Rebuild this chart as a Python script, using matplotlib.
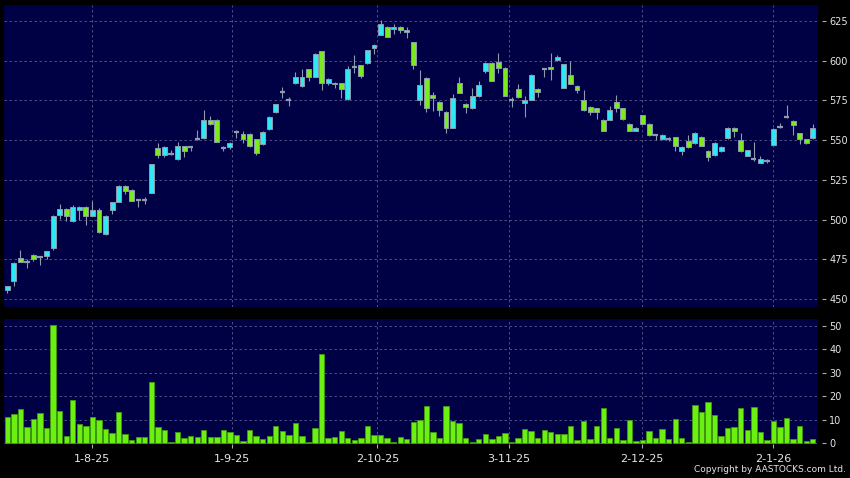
import matplotlib
matplotlib.use('Agg')
import matplotlib.pyplot as plt
import numpy as np

# daily OHLC (HKD), mid-Jul 2025 to mid-Jan 2026
opens = [455.5, 461.6, 476, 473.5, 478, 476.2, 477.3, 482.3, 503, 506.6,
         498.8, 505.8, 508, 502, 506.3, 491.2, 506.3, 511.2, 521.2, 518.8,
         512.5, 512.5, 517, 545, 540.4, 541.2, 537.9, 546.2, 545.8, 550.4,
         551.6, 562.5, 562.5, 545, 545.4, 555.4, 553.7, 553.7, 550.4, 547.5,
         557, 567.5, 580.5, 575.5, 586, 584, 594.5, 590, 605.8, 586.2,
         585, 585.7, 575.7, 595.8, 597.3, 598.3, 608, 616.4, 621, 620.1,
         621.4, 619.3, 611.8, 575.3, 589, 578.4, 574, 567.7, 557.7, 586,
         573, 570, 577.6, 593.3, 598.5, 599.4, 595.4, 575.5, 582.2, 573.2,
         575.3, 582.2, 594.5, 596.2, 600.4, 582.8, 591.2, 584, 575.3, 571,
         570.2, 562.7, 562.7, 574, 570.2, 560.2, 555.8, 565.6, 560.2, 553,
         550.5, 550.9, 551.8, 542.9, 549.6, 547.9, 552.1, 543, 540.4, 542.9,
         551.4, 557.7, 550, 540.3, 538.3, 535.8, 536.7, 547.2, 558.5, 564.8,
         562.1, 554.2, 550.4, 551.4]
highs = [458.5, 473, 481, 475, 478.5, 476.5, 480.5, 503, 509.6, 507,
         509, 508.5, 508.5, 512, 507, 503, 511, 521.5, 521.5, 519,
         513, 514, 535, 548.3, 546, 543.7, 548.7, 546.5, 546, 556.2,
         568.8, 565, 563, 546.2, 548.5, 556.2, 555.8, 554.5, 551, 555.5,
         565, 573, 583.6, 577.4, 593, 594.8, 595, 604.5, 606, 589,
         586.5, 586, 596.6, 603.8, 597.5, 607, 610.5, 625.4, 621.5, 623,
         621.5, 621, 612, 594, 589.5, 580, 574.5, 568, 579, 589.5,
         573.5, 582.6, 587, 599, 599, 605, 596, 577, 585, 577.8,
         591.5, 582.5, 595, 605, 603.3, 598, 600, 584.5, 581.6, 571.5,
         570.5, 563, 571.5, 578.6, 570.5, 560.5, 558, 566, 560.5, 553.5,
         554, 552.2, 552, 546, 553.3, 555.4, 552.5, 543.5, 548.5, 546,
         558, 558, 554.2, 544, 549.1, 540, 537.9, 557.5, 561, 572.3,
         562.5, 554.5, 551, 560.2]
lows = [454, 458.3, 473, 469.5, 474, 471.6, 475, 481, 500.6, 499,
        498.5, 500, 496.6, 502, 491.5, 490, 503.8, 511, 516, 511.5,
        508, 509.6, 517, 539, 539.6, 540.5, 537.5, 539.6, 543, 550,
        551, 559.5, 548.5, 542.9, 544.6, 551.6, 548.3, 545.5, 540.4, 547,
        556.5, 567, 576.3, 571.7, 585.5, 583.5, 587, 589.5, 581.6, 584.5,
        582.8, 576.3, 575.5, 592, 588.9, 598, 604.2, 616, 615, 616.8,
        617.2, 614.3, 594.5, 571.9, 567.7, 568, 565.2, 554.3, 557.5, 579.5,
        566.9, 569.5, 577, 592.5, 587, 592, 577.5, 570.6, 576.5, 564.8,
        575, 577, 589.5, 588, 600, 582.5, 585, 579.4, 568.5, 566,
        563, 555.5, 562.5, 567.7, 562.5, 555.5, 555.5, 560, 552.5, 550,
        550, 549.2, 543, 540.4, 545, 547.5, 546, 536.7, 540, 542.5,
        551, 552, 542.5, 540, 537, 535.5, 535.5, 547, 557.5, 564,
        553, 547.5, 547.5, 551]
closes = [458.3, 472.5, 473, 473.5, 475, 476.2, 480, 502.3, 506.6, 502.5,
          507.9, 507.9, 502, 506, 492, 502.5, 510.8, 521.2, 518, 512,
          512.5, 512.5, 535, 540.4, 545.4, 541.2, 546.2, 543.3, 545.8, 550.4,
          562.5, 560, 549, 545, 548.3, 555.4, 550.4, 546.2, 542, 555,
          564.6, 572.8, 580.5, 575.5, 589.5, 589.5, 589.5, 604.2, 586.2, 588.2,
          586.2, 582.2, 594.5, 595.8, 590.4, 606.7, 610, 623, 615.1, 621.4,
          619.3, 618, 597, 584.9, 570.3, 576.5, 569, 557.7, 576.5, 579.7,
          571, 577.6, 584.9, 598.5, 587.2, 595.4, 577.8, 575.5, 577, 575.3,
          591.2, 580.1, 594.5, 595, 602.1, 597.9, 585.3, 581.6, 569, 567.7,
          567.7, 555.8, 569, 570.2, 563.1, 556, 557.7, 560.2, 553, 553,
          553, 550.9, 546.4, 545.8, 545.4, 554.2, 546.4, 539.2, 548.3, 545.8,
          557.7, 555.6, 543, 543.6, 538.3, 537.9, 536.7, 556.8, 558.5, 564.8,
          559.2, 550.4, 547.9, 557.7]
# turnover volume (millions)
volumes = [11.3, 12.3, 14.4, 6.9, 10.5, 13.0, 6.5, 50.1, 13.9, 3.1,
           18.4, 8.2, 7.4, 11.3, 9.8, 6.1, 4.2, 13.2, 4.0, 1.6,
           2.5, 2.5, 25.9, 6.8, 5.8, 0.4, 4.8, 2.3, 3.0, 2.7,
           5.7, 2.8, 2.7, 5.5, 4.8, 3.4, 1.0, 5.7, 3.1, 2.0,
           3.3, 7.2, 5.4, 3.7, 8.5, 3.1, 0.7, 6.4, 38.1, 2.3,
           2.7, 5.1, 2.4, 1.3, 2.3, 7.2, 3.4, 3.4, 2.1, 0.4,
           2.5, 2.0, 9.1, 10.1, 15.7, 5.0, 2.1, 16.0, 9.5, 8.5,
           2.3, 0.4, 2.0, 4.1, 1.7, 3.1, 4.2, 0.6, 2.1, 6.2,
           5.4, 2.1, 5.7, 4.8, 4.1, 4.1, 7.5, 1.4, 9.3, 1.7,
           7.5, 15.2, 2.1, 6.4, 1.3, 9.8, 0.8, 1.3, 5.4, 2.1,
           5.9, 1.8, 10.5, 2.1, 0.7, 16.3, 13.3, 17.7, 11.9, 3.1,
           6.5, 6.8, 14.9, 5.5, 15.4, 4.8, 1.6, 9.5, 6.8, 10.8,
           2.0, 7.2, 0.8, 1.7]
date_labels = ['1-8-25', '1-9-25', '2-10-25', '3-11-25', '2-12-25', '2-1-26']
date_pos = [12.9, 34.3, 56.5, 76.6, 96.9, 116.9]
price_ticks = [450, 475, 500, 525, 550, 575, 600, 625]
vol_ticks = [0, 10, 20, 30, 40, 50]

o = np.array(opens); h = np.array(highs); l = np.array(lows); c = np.array(closes)
x = np.arange(len(o))

bg = '#000044'
up_col = '#2ee8f5'
dn_col = '#7ceb1e'
edge = '#8c9cac'
grid_col = '#5a5a8e'
txt = '#e6e6e6'

fig = plt.figure(figsize=(8.5, 4.78), dpi=100, facecolor='black')
ax = fig.add_axes([4/850, 1-307/478, 814/850, 302/478])
ax2 = fig.add_axes([4/850, 1-444/478, 814/850, 125/478])

for a in (ax, ax2):
    a.set_facecolor(bg)
    for s in a.spines.values():
        s.set_visible(False)
    a.set_xlim(-0.5, 123.8)
    a.set_xticks(date_pos)
    a.grid(True, color=grid_col, linestyle=(0, (3, 3)), linewidth=0.6)
    a.set_axisbelow(True)
    a.yaxis.tick_right()
    a.spines['right'].set_position(('outward', 3))
    a.tick_params(axis='y', colors='#aaaaaa', labelcolor=txt, length=3, width=0.8, pad=2, labelsize=7)

# candles
ax.vlines(x, l, h, color=edge, linewidth=0.8, zorder=2)
up = c > o
dn = c < o
dj = c == o
ax.bar(x[up], (c - o)[up], bottom=o[up], width=0.75, color=up_col, edgecolor=edge, linewidth=0.7, zorder=3)
ax.bar(x[dn], (o - c)[dn], bottom=c[dn], width=0.75, color=dn_col, edgecolor=edge, linewidth=0.7, zorder=3)
ax.hlines(c[dj], x[dj] - 0.4, x[dj] + 0.4, color=edge, linewidth=1.6, zorder=3)
ax.set_ylim(445, 635)
ax.set_yticks(price_ticks)
ax.tick_params(axis='x', length=0, labelbottom=False)

# volume
ax2.bar(x, volumes, width=0.82, color='#6cf012', edgecolor='#3f9a10', linewidth=0.6, zorder=3)
ax2.set_ylim(-0.3, 52.8)
ax2.set_yticks(vol_ticks)
ax2.set_xticklabels(date_labels)
ax2.tick_params(axis='x', colors='#aaaaaa', labelcolor=txt, length=3, width=0.8, pad=4, labelsize=8)

fig.text(0.995, 0.008, 'Copyright by AASTOCKS.com Ltd.', color=txt, fontsize=6.5, ha='right', va='bottom')

fig.savefig('out.png', dpi=100, facecolor='black')
